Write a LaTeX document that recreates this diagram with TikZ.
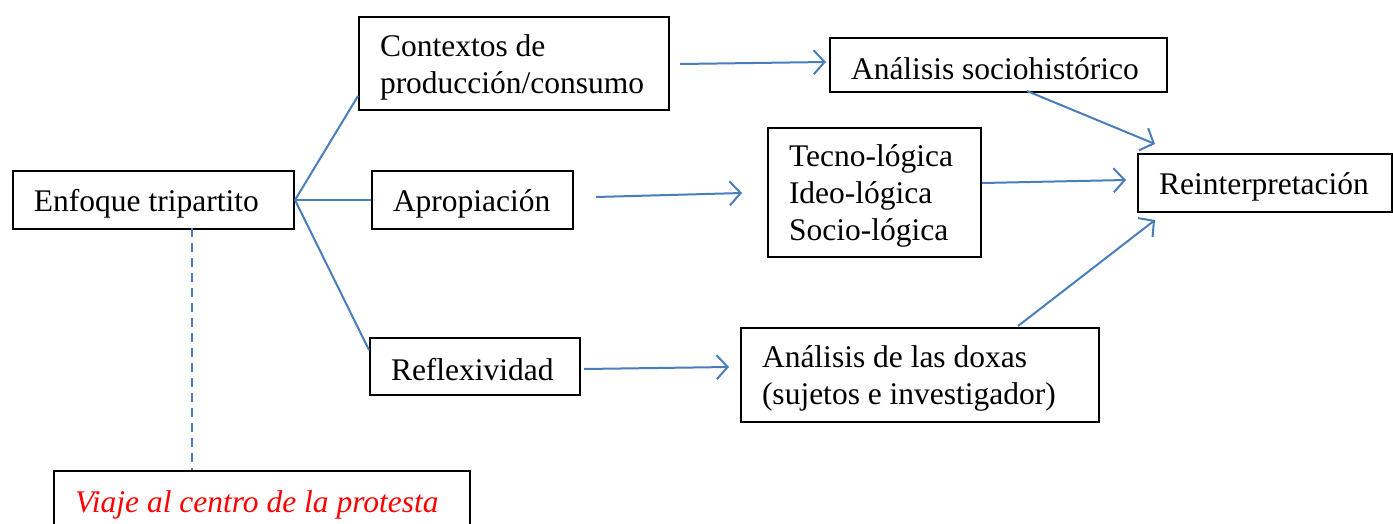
\documentclass[tikz,border=0pt]{standalone}
\usepackage{fontspec}
\setmainfont{Liberation Serif}
\usetikzlibrary{arrows.meta}
\definecolor{lineblue}{HTML}{4A7EBB}
\tikzset{
  box/.style={draw=black, line width=2pt, anchor=north west, align=flush left,
    inner xsep=21pt, inner ysep=0pt, font=\fontsize{31.5}{37}\selectfont,
    execute at begin node={\rule{0pt}{29pt}}},
  conn/.style={draw=lineblue, line width=2pt},
  arr/.style={conn, -{Straight Barb[length=11pt,width=24pt,line width=2pt]}},
}
\begin{document}
\begin{tikzpicture}[x=1pt,y=-1pt]
\useasboundingbox (0,0) rectangle (1393,523);
\clip (0,0) rectangle (1393,523);
\node[box, text width=239pt, minimum height=58pt] (enf) at (12,170) {Enfoque tripartito};
\node[box, text width=268pt, minimum height=93pt] (ctx) at (358,16) {Contextos de\\producción/consumo};
\node[box, text width=159pt, minimum height=58pt] (apr) at (371,170) {Apropiación};
\node[box, text width=168pt, minimum height=57pt] (ref) at (369,337) {Reflexividad};
\node[box, text width=295pt, minimum height=54pt] (soc) at (829,37) {Análisis sociohistórico};
\node[box, text width=171pt, minimum height=129pt] (tec) at (767,127) {Tecno-lógica\\Ideo-lógica\\Socio-lógica};
\node[box, text width=212pt, minimum height=58pt] (rei) at (1137,153) {Reinterpretación};
\node[box, text width=316pt, minimum height=94pt] (dox) at (740,327) {Análisis de las doxas\\(sujetos e investigador)};
\node[box, text width=374pt, minimum height=60pt, font=\fontsize{31.5}{37}\selectfont\itshape, text=red] (via) at (53,470) {Viaje al centro de la protesta};
% branches
\coordinate (ctxa) at (358,96);
\coordinate (refa) at (369,350);
\draw[conn] (enf.east) -- (ctxa);
\draw[conn] (enf.east) -- (apr.west);
\draw[conn] (enf.east) -- (refa);
% dashed
\coordinate (enfd) at (192,228);
\coordinate (viad) at (192,470);
\draw[conn, dashed, dash pattern=on 9pt off 6pt] (enfd) -- (viad);
% arrows
\coordinate (a1s) at (680,64); \coordinate (a1e) at (826,62);
\draw[arr] (a1s) -- (a1e);
\coordinate (a2s) at (596,197); \coordinate (a2e) at (742,193);
\draw[arr] (a2s) -- (a2e);
\coordinate (a3s) at (584,369); \coordinate (a3e) at (729,367);
\draw[arr] (a3s) -- (a3e);
\coordinate (a4s) at (1027,91); \coordinate (a4e) at (1155,144);
\draw[arr] (a4s) -- (a4e);
\coordinate (a5s) at (982,183); \coordinate (a5e) at (1126,180);
\draw[arr] (a5s) -- (a5e);
\coordinate (a6s) at (1018,326); \coordinate (a6e) at (1155,220);
\draw[arr] (a6s) -- (a6e);
\end{tikzpicture}
\end{document}
